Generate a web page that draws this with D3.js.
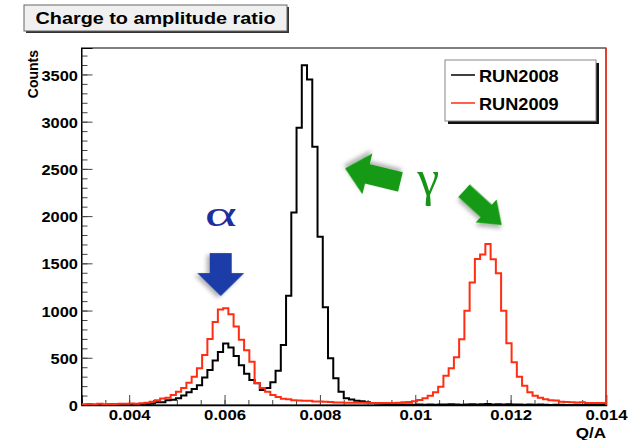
<!DOCTYPE html>
<html>
<head>
<meta charset="utf-8">
<script src="https://cdn.jsdelivr.net/npm/d3@7"></script>
<style>
body { margin: 0; background: #fff; }
</style>
</head>
<body>
<div id="chart"></div>
<script>
// histogram binning: 100 bins between 0.003 and 0.014
var binLow = 0.003;
var binHigh = 0.014;
var nBins = 100;

var run2008 = [0,0,0,2,0,0,3,0,2,4,
    5,6,10,15,28,30,50,55,72,100,
    135,170,210,290,370,470,560,650,610,520,
    420,330,265,230,160,180,240,363,635,1157,
    2039,2935,3598,3447,2734,1781,1034,494,282,141,
    71,58,46,40,30,22,15,12,10,7,
    6,4,5,3,4,2,5,3,6,4,
    8,5,3,6,9,4,7,10,6,8,
    5,9,4,6,3,5,2,4,3,1,
    2,3,1,0,2,1,0,1,0,0];

var run2009 = [8,10,7,12,9,11,10,13,12,15,
    14,18,25,35,50,70,78,106,141,180,
    235,300,390,530,700,880,1010,1025,960,830,
    690,580,458,233,180,141,106,85,65,62,
    50,47,45,44,38,36,34,33,27,26,
    25,24,25,23,24,22,21,20,21,22,
    25,28,33,40,52,71,99,134,194,310,
    388,505,695,998,1298,1545,1594,1704,1542,1394,
    998,653,452,300,204,134,98,77,60,50,
    48,35,33,28,27,28,21,22,20,21];

var seriesNames = ["RUN2008", "RUN2009"];
var seriesColors = ["#000000", "#ff2d12"];

var xMajorTicks = [0.004, 0.006, 0.008, 0.01, 0.012, 0.014];
var xTickLabels = ["0.004", "0.006", "0.008", "0.01", "0.012", "0.014"];
var yMajorTicks = [0, 500, 1000, 1500, 2000, 2500, 3000, 3500];
var yMax = 3780;

var titleText = "Charge to amplitude ratio";
var xTitle = "Q/A";
var yTitle = "Counts";

// annotation symbols and arrows, placed in data units
var symbols = [
    {text: "\u03b1", x: 0.00592, y: 1900, size: 36, width: 32, color: "#1d2f9e"},
    {text: "\u03b3", x: 0.01027, y: 2220, size: 50, width: 22, color: "#169416"}
];
var arrows = [
    {x: 0.00592, y: 1153, angle: 90, len: 43, head: 23, headW: 47, shaftW: 22, color: "#1b3ca8"},
    {x: 0.008527, y: 2505, angle: 193.7, len: 57, head: 23, headW: 42, shaftW: 20, color: "#129a12"},
    {x: 0.011813, y: 1905, angle: 42.3, len: 51, head: 21, headW: 31, shaftW: 17, color: "#129a12"}
];

var width = 641;
var height = 440;
var padLeft = 81.5, padRight = 606, padTop = 48, padBottom = 405;
var sansFont = "'Liberation Sans', Arial, Helvetica, sans-serif";

var svg = d3.select("#chart")
    .append("svg")
    .attr("width", width)
    .attr("height", height);

var defs = svg.append("defs");
defs.append("clipPath")
    .attr("id", "plotClip")
    .append("rect")
    .attr("x", padLeft)
    .attr("y", padTop)
    .attr("width", padRight - padLeft)
    .attr("height", padBottom - padTop + 2);
var shadow = defs.append("filter")
    .attr("id", "shadow")
    .attr("x", "-30%").attr("y", "-30%")
    .attr("width", "160%").attr("height", "160%");
shadow.append("feDropShadow")
    .attr("dx", 2).attr("dy", 3)
    .attr("stdDeviation", 2)
    .attr("flood-color", "#000")
    .attr("flood-opacity", 0.3);

var x = d3.scaleLinear().domain([binLow, binHigh]).range([padLeft, padRight]);
var y = d3.scaleLinear().domain([0, yMax]).range([padBottom, padTop]);

// stretch text horizontally, the original canvas was widened
function stretch(sel, factor){
    sel.each(function(){
        var w = this.getComputedTextLength();
        d3.select(this)
            .attr("textLength", w * factor)
            .attr("lengthAdjust", "spacingAndGlyphs");
    });
}

function boldText(sel, size){
    sel.style("font-family", sansFont)
        .style("font-weight", "bold")
        .style("font-size", size + "px")
        .attr("fill", "#000");
}

// frame
svg.append("rect")
    .attr("x", padLeft)
    .attr("y", padTop)
    .attr("width", padRight - padLeft)
    .attr("height", padBottom - padTop)
    .attr("fill", "none")
    .attr("stroke", "#000")
    .attr("stroke-width", 1);

// x axis
var xMinor = d3.range(0, 23).map(function(i){ return binLow + i * 0.0005; });
svg.append("g")
    .attr("transform", "translate(0," + padBottom + ")")
    .call(d3.axisBottom(x).tickValues(xMinor).tickSize(-5).tickFormat(""))
    .call(function(g){ g.select(".domain").remove(); })
    .selectAll("line").attr("stroke", "#444");

var xAxis = svg.append("g")
    .attr("transform", "translate(0," + padBottom + ")")
    .call(d3.axisBottom(x)
        .tickValues(xMajorTicks)
        .tickSize(-10)
        .tickPadding(4)
        .tickFormat(function(d, i){ return xTickLabels[i]; }));
xAxis.select(".domain").attr("stroke", "#000").attr("stroke-width", 1.5);
xAxis.selectAll("line").attr("stroke", "#444");
xAxis.selectAll("text")
    .call(boldText, 15.5)
    .call(stretch, 1.08);

// y axis
var yMinor = d3.range(0, 38).map(function(i){ return i * 100; });
svg.append("g")
    .attr("transform", "translate(" + padLeft + ",0)")
    .call(d3.axisLeft(y).tickValues(yMinor).tickSize(-6).tickFormat(""))
    .call(function(g){ g.select(".domain").remove(); })
    .selectAll("line").attr("stroke", "#444");

var yAxis = svg.append("g")
    .attr("transform", "translate(" + padLeft + ",0)")
    .call(d3.axisLeft(y)
        .tickValues(yMajorTicks)
        .tickSize(-11)
        .tickPadding(3.5)
        .tickFormat(d3.format("d")));
yAxis.select(".domain").attr("stroke", "#000");
yAxis.selectAll("line").attr("stroke", "#444");
yAxis.selectAll("text")
    .call(boldText, 15.5)
    .attr("dy", "0.36em")
    .call(stretch, 1.06);

// axis titles
svg.append("text")
    .attr("x", padRight)
    .attr("y", 438)
    .attr("text-anchor", "end")
    .call(boldText, 15.5)
    .text(xTitle)
    .call(stretch, 1.1);

svg.append("text")
    .attr("transform", "translate(38,50) rotate(-90)")
    .attr("text-anchor", "end")
    .call(boldText, 14)
    .text(yTitle);

// histograms
function histPoints(values){
    var pts = values.map(function(v, i){
        return [binLow + i * (binHigh - binLow) / nBins, v];
    });
    pts.push([binHigh, values[values.length - 1]]);
    return pts;
}

var stepLine = d3.line()
    .x(function(d){ return x(d[0]); })
    .y(function(d){ return y(d[1]); })
    .curve(d3.curveStepAfter);

var plot = svg.append("g").attr("clip-path", "url(#plotClip)");
[run2008, run2009].forEach(function(series, i){
    plot.append("path")
        .attr("d", stepLine(histPoints(series)))
        .attr("fill", "none")
        .attr("stroke", seriesColors[i])
        .attr("stroke-width", 2)
        .attr("stroke-linejoin", "miter");
});
// red edge on the right side of the frame
svg.append("line")
    .attr("x1", x(binHigh)).attr("x2", x(binHigh))
    .attr("y1", y(0)).attr("y2", y(yMax))
    .attr("stroke", seriesColors[1])
    .attr("stroke-width", 1.5);

// legend
var legend = svg.append("g").attr("transform", "translate(445,60)");
legend.append("rect")
    .attr("x", 3).attr("y", 3)
    .attr("width", 151).attr("height", 61)
    .attr("fill", "#111");
legend.append("rect")
    .attr("width", 151).attr("height", 61)
    .attr("fill", "#fff")
    .attr("stroke", "#888")
    .attr("stroke-width", 1);
seriesNames.forEach(function(name, i){
    legend.append("line")
        .attr("x1", 6).attr("x2", 30)
        .attr("y1", 15 + i * 28).attr("y2", 15 + i * 28)
        .attr("stroke", seriesColors[i])
        .attr("stroke-width", 1.5);
    legend.append("text")
        .attr("x", 34)
        .attr("y", 22 + i * 28)
        .call(boldText, 16.5)
        .text(name)
        .call(stretch, 1.1);
});

// title box
var title = svg.append("g");
title.append("rect")
    .attr("x", 26).attr("y", 7)
    .attr("width", 263).attr("height", 26)
    .attr("fill", "#333");
title.append("rect")
    .attr("x", 24).attr("y", 5)
    .attr("width", 263).attr("height", 26)
    .attr("fill", "#f0f0f0")
    .attr("stroke", "#666")
    .attr("stroke-width", 1);
title.append("text")
    .attr("x", 155.5)
    .attr("y", 24)
    .attr("text-anchor", "middle")
    .call(boldText, 16.5)
    .attr("textLength", 240)
    .attr("lengthAdjust", "spacingAndGlyphs")
    .text(titleText);

// arrows
function arrowShape(a){
    return [[0, 0], [-a.head, -a.headW / 2], [-a.head, -a.shaftW / 2],
        [-a.len, -a.shaftW / 2], [-a.len, a.shaftW / 2],
        [-a.head, a.shaftW / 2], [-a.head, a.headW / 2]];
}
svg.selectAll(".arrow")
    .data(arrows)
    .enter()
    .append("path")
    .attr("class", "arrow")
    .attr("transform", function(d){
        return "translate(" + x(d.x) + "," + y(d.y) + ") rotate(" + d.angle + ")";
    })
    .attr("d", function(d){ return "M" + arrowShape(d).join("L") + "Z"; })
    .attr("fill", function(d){ return d.color; })
    .attr("filter", "url(#shadow)");

svg.selectAll(".sym")
    .data(symbols)
    .enter()
    .append("text")
    .attr("class", "sym")
    .attr("x", function(d){ return x(d.x); })
    .attr("y", function(d){ return y(d.y); })
    .attr("text-anchor", "middle")
    .style("font-family", "'Liberation Serif', 'DejaVu Serif', 'Times New Roman', serif")
    .style("font-weight", "normal")
    .style("font-size", function(d){ return d.size + "px"; })
    .attr("textLength", function(d){ return d.width; })
    .attr("lengthAdjust", "spacingAndGlyphs")
    .attr("fill", function(d){ return d.color; })
    .text(function(d){ return d.text; });
</script>
</body>
</html>
